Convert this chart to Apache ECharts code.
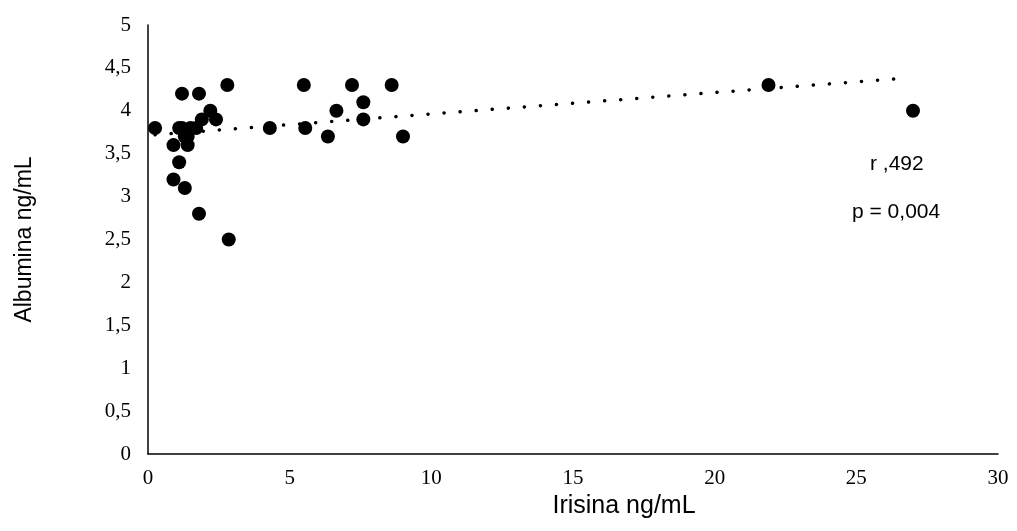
<!DOCTYPE html>
<html><head><meta charset="utf-8">
<script src="https://cdn.jsdelivr.net/npm/echarts@6/dist/echarts.min.js"></script>
<style>html,body{margin:0;padding:0;background:#fff}#c{width:1017px;height:531px}</style>
</head><body><div id="c"></div>
<script>
const irisina = [0.25,0.9,0.9,1.1,1.1,1.2,1.3,1.3,1.2,1.5,1.7,1.4,1.4,1.8,1.8,1.9,2.2,2.4,2.8,2.85,4.3,5.5,5.55,6.35,6.65,7.2,7.6,7.6,8.6,9.0,21.9,27.0];
const albumina = [3.8,3.6,3.2,3.8,3.4,4.2,3.1,3.7,3.8,3.8,3.8,3.7,3.6,4.2,2.8,3.9,4.0,3.9,4.3,2.5,3.8,4.3,3.8,3.7,4.0,4.3,4.1,3.9,4.3,3.7,4.3,4.0];
const trendX = [0.25, 26.7];
const trendY = [3.72, 4.38];
const annotations = ['r ,492', 'p = 0,004'];
const fmt = v => String(v).replace('.', ',');

const chart = echarts.init(document.getElementById('c'));
chart.setOption({
  animation: false,
  grid: {left: 148, right: 19, top: 25, bottom: 77},
  xAxis: {
    type: 'value', min: 0, max: 30, interval: 5,
    name: 'Irisina ng/mL', nameLocation: 'middle', nameGap: 37,
    nameTextStyle: {fontFamily: 'Liberation Sans', fontSize: 25, color: '#000', padding: [0, 0, 0, 102]},
    axisLine: {lineStyle: {color: '#000', width: 1.5}},
    axisTick: {show: false}, splitLine: {show: false},
    axisLabel: {fontFamily: 'Liberation Serif', fontSize: 21, color: '#000', margin: 14, formatter: fmt}
  },
  yAxis: {
    type: 'value', min: 0, max: 5, interval: 0.5,
    name: 'Albumina ng/mL', nameLocation: 'middle', nameGap: 112, nameRotate: 90,
    nameTextStyle: {fontFamily: 'Liberation Sans', fontSize: 23, color: '#000'},
    axisLine: {show: true, lineStyle: {color: '#000', width: 1.5}},
    axisTick: {show: false}, splitLine: {show: false},
    axisLabel: {fontFamily: 'Liberation Serif', fontSize: 21, color: '#000', margin: 17, formatter: fmt}
  },
  series: [
    {
      type: 'line', data: trendX.map((x, i) => [x, trendY[i]]), symbol: 'none', silent: true,
      lineStyle: {color: '#000', width: 3.5, type: [0.1, 16], cap: 'round'}, z: 1
    },
    {
      type: 'scatter', data: irisina.map((x, i) => [x, albumina[i]]),
      symbol: 'circle', symbolSize: 14, itemStyle: {color: '#000', opacity: 1}, z: 2
    }
  ],
  graphic: [
    {type: 'text', left: 870, top: 154, style: {text: annotations[0], font: '21px "Liberation Sans"', fill: '#000'}},
    {type: 'text', left: 852, top: 202, style: {text: annotations[1], font: '21px "Liberation Sans"', fill: '#000'}}
  ]
});
</script></body></html>
